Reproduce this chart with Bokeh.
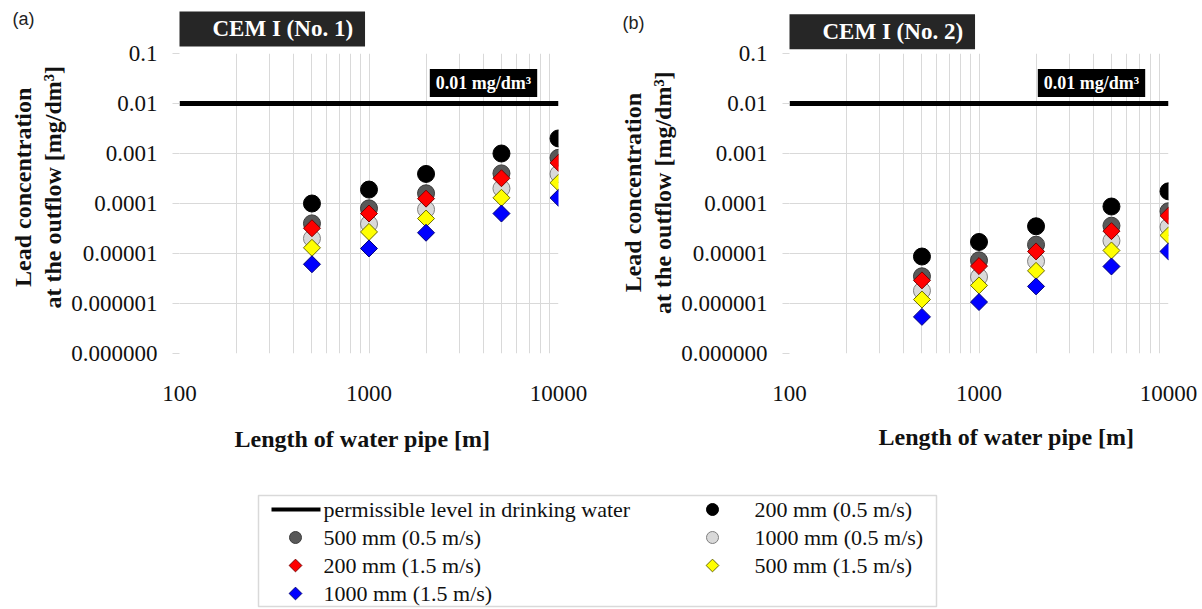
import math
from bokeh.plotting import figure
from bokeh.models import FixedTicker, CustomJSTickFormatter, Label, Range1d
from bokeh.layouts import row, column
from bokeh.embed import file_html
from bokeh.resources import INLINE
from bokeh.core.properties import value

# ---------------- data ----------------
length_m = [500, 1000, 2000, 5000, 10000]

series_labels = ["200 mm (0.5 m/s)", "500 mm (0.5 m/s)", "1000 mm (0.5 m/s)",
                 "200 mm (1.5 m/s)", "500 mm (1.5 m/s)", "1000 mm (1.5 m/s)"]

# panel (a) CEM I (No. 1)
a_200_05 = [1.0e-4, 1.9e-4, 3.9e-4, 1.0e-3, 2.0e-3]
a_500_05 = [4.0e-5, 8.0e-5, 1.6e-4, 4.0e-4, 8.2e-4]
a_1000_05 = [2.0e-5, 3.9e-5, 7.6e-5, 2.0e-4, 3.9e-4]
a_200_15 = [3.2e-5, 6.3e-5, 1.25e-4, 3.2e-4, 6.5e-4]
a_500_15 = [1.3e-5, 2.7e-5, 5.0e-5, 1.3e-4, 2.6e-4]
a_1000_15 = [6.1e-6, 1.26e-5, 2.6e-5, 6.3e-5, 1.3e-4]

# panel (b) CEM I (No. 2)
b_200_05 = [8.7e-6, 1.7e-5, 3.5e-5, 8.7e-5, 1.75e-4]
b_500_05 = [3.5e-6, 7.3e-6, 1.5e-5, 3.6e-5, 7.0e-5]
b_1000_05 = [1.8e-6, 3.4e-6, 7.0e-6, 1.8e-5, 3.4e-5]
b_200_15 = [2.9e-6, 5.6e-6, 1.1e-5, 2.8e-5, 5.7e-5]
b_500_15 = [1.2e-6, 2.3e-6, 4.5e-6, 1.15e-5, 2.3e-5]
b_1000_15 = [5.4e-7, 1.07e-6, 2.2e-6, 5.5e-6, 1.1e-5]

limit_label = "permissible level in drinking water"
limit_text = "0.01 mg/dm³"
limit_x = [100, 10000]
limit_y = [0.01, 0.01]

x_ticks = [100, 1000, 10000]
x_tick_labels = ["100", "1000", "10000"]
x_minor = [200, 300, 400, 500, 600, 700, 800, 900,
           2000, 3000, 4000, 5000, 6000, 7000, 8000, 9000]
y_ticks = [1e-7, 1e-6, 1e-5, 1e-4, 1e-3, 1e-2, 1e-1]
y_tick_labels = ["0.000000", "0.000001", "0.00001", "0.0001", "0.001", "0.01", "0.1"]

x_title = "Length of water pipe [m]"
y_title_lines = ["Lead concentration", "at the outflow [mg/dm³]"]

# ---------------- styles ----------------
SERIF = "Liberation Serif"
GRID = "#d9d9d9"
styles = [
    dict(marker="circle", size=17, fill_color="#000000", line_color="#000000", angle=0.0),
    dict(marker="circle", size=17, fill_color="#595959", line_color="#3c3c3c", angle=0.0),
    dict(marker="circle", size=17, fill_color="#d9d9d9", line_color="#7f7f7f", angle=0.0),
    dict(marker="square", size=12, fill_color="#ff0000", line_color="#7a0000", angle=math.pi / 4),
    dict(marker="square", size=12, fill_color="#ffff00", line_color="#6b6b00", angle=math.pi / 4),
    dict(marker="square", size=12, fill_color="#0000ff", line_color="#00007a", angle=math.pi / 4),
]

fmt_code = """
for (let i = 0; i < tv.length; i++) {
  if (Math.abs(Math.log10(tv[i]) - Math.log10(tick)) < 1e-6) { return tl[i]; }
}
return "";
"""

FRAME_W = 379


def make_panel(tag, name, series, width, height, bl, br, bt, frame_h, g):
    """g: pixel offsets of the annotation texts relative to the frame."""
    bb = height - bt - frame_h
    p = figure(width=width, height=height, x_axis_type="log", y_axis_type="log",
               x_range=(x_ticks[0], x_ticks[-1]), y_range=(y_ticks[0], y_ticks[-1]),
               toolbar_location=None, output_backend="svg",
               min_border_left=bl, min_border_right=br, min_border_top=bt, min_border_bottom=bb)
    p.outline_line_color = None
    p.background_fill_color = "white"
    p.border_fill_color = "white"

    xdec = FRAME_W / 2.0
    ydec = frame_h / 6.0

    def fx(px):          # px to the right of frame left
        return 10 ** (math.log10(x_ticks[0]) + px / xdec)

    def fy(px):          # px above frame top (negative = below)
        return 10 ** (math.log10(y_ticks[-1]) + px / ydec)

    def fy_bottom(px):   # px below frame bottom
        return 10 ** (math.log10(y_ticks[0]) - px / ydec)

    p.xaxis.ticker = FixedTicker(ticks=x_ticks, minor_ticks=x_minor)
    p.yaxis.ticker = FixedTicker(ticks=y_ticks, minor_ticks=[])
    p.xaxis.formatter = CustomJSTickFormatter(args=dict(tv=x_ticks, tl=x_tick_labels), code=fmt_code)
    p.yaxis.formatter = CustomJSTickFormatter(args=dict(tv=y_ticks, tl=y_tick_labels), code=fmt_code)

    p.xgrid.grid_line_color = GRID
    p.xgrid.minor_grid_line_color = GRID
    p.ygrid.grid_line_color = GRID

    for ax in (p.xaxis, p.yaxis):
        ax.axis_line_color = None
        ax.minor_tick_line_color = None
        ax.major_label_text_font = SERIF
        ax.major_label_text_font_size = "23px"
        ax.major_label_text_color = "#111111"
    p.xaxis.major_tick_line_color = None
    p.xaxis.major_tick_out = 0
    p.xaxis.major_label_standoff = 28
    p.yaxis.major_tick_line_color = GRID
    p.yaxis.major_tick_in = 0
    p.yaxis.major_tick_out = 7
    p.yaxis.major_label_standoff = 15

    # permissible level
    p.line(x=limit_x, y=limit_y, line_color="black", line_width=5)

    for ys, st in zip(series, styles):
        p.scatter(x=length_m, y=ys, marker=st["marker"], size=st["size"],
                  fill_color=st["fill_color"], line_color=st["line_color"],
                  line_width=1, angle=st["angle"])

    # label of the permissible level (inside the frame)
    p.add_layout(Label(x=fx(g["lim_x"]), y=fy(-g["lim_y"]), text=limit_text,
                       text_align="center", text_baseline="middle", text_color="white",
                       text_font=SERIF, text_font_style="bold", text_font_size="18px",
                       background_fill_color="black", padding=(6, 6, 4, 4)))
    # texts outside the frame: put in side panels so they are not clipped
    p.add_layout(Label(x=x_ticks[0], y=fy(g["title_y"]), text=name, text_align="left",
                       text_baseline="middle", text_color="white", text_font=SERIF,
                       text_font_style="bold", text_font_size="23px",
                       background_fill_color="#262626", padding=(33, 12, 5, 5)), "above")
    p.add_layout(Label(x=fx(g["tag_x"]), y=fy(g["tag_y"]), text=tag, text_align="left",
                       text_baseline="middle", text_color="#222222",
                       text_font="Liberation Sans", text_font_size="18px"), "right")
    p.add_layout(Label(x=fx(g["xt_x"]), y=fy_bottom(g["xt_y"]), text=x_title,
                       text_align="center", text_baseline="middle", text_color="#111111",
                       text_font=SERIF, text_font_style="bold", text_font_size="24px"), "below")
    for line_txt, lx in zip(y_title_lines, g["yt_x"]):
        p.add_layout(Label(x=fx(lx), y=fy(-g["yt_y"]), text=line_txt, angle=math.pi / 2,
                           text_align="center", text_baseline="middle", text_color="#111111",
                           text_font=SERIF, text_font_style="bold", text_font_size="24px"),
                     "left")
    return p


pa = make_panel("(a)", "CEM I (No. 1)",
                [a_200_05, a_500_05, a_1000_05, a_200_15, a_500_15, a_1000_15],
                600, 488, 179, 42, 53, 305,
                dict(lim_x=304, lim_y=30, title_y=25, tag_x=-167, tag_y=35, xt_x=183, xt_y=87,
                     yt_x=[-157, -127], yt_y=136))
pb = make_panel("(b)", "CEM I (No. 2)",
                [b_200_05, b_500_05, b_1000_05, b_200_15, b_500_15, b_1000_15],
                602, 488, 189, 34, 49, 304,
                dict(lim_x=302, lim_y=30, title_y=22, tag_x=-167, tag_y=31, xt_x=217, xt_y=85,
                     yt_x=[-157, -127], yt_y=141))

# ---------------- legend (own pixel frame, y downwards) ----------------
LW, LH = 1202, 121
pl = figure(width=LW, height=LH, x_range=Range1d(0, LW), y_range=Range1d(LH, 0),
            toolbar_location=None, output_backend="svg",
            x_axis_location=None, y_axis_location=None, min_border=0)
pl.grid.visible = False
pl.outline_line_color = None
pl.background_fill_color = "white"
pl.border_fill_color = "white"

box = dict(left=258, right=936, top=7, bottom=118)
pl.quad(left=box["left"], right=box["right"], top=box["top"], bottom=box["bottom"],
        fill_color=None, line_color=GRID, line_width=1.5)

col_glyph_x = [295, 712]
col_text_x = [323, 754]
row_y0, row_pitch = 21, 28
legend_entries = [limit_label] + series_labels      # filled row by row, 2 columns
legend_style = [None] + styles
for i, (lab, st) in enumerate(zip(legend_entries, legend_style)):
    c, r = i % 2, i // 2
    gy = row_y0 + r * row_pitch
    if st is None:
        pl.line(x=[col_glyph_x[c] - 24, col_glyph_x[c] + 25], y=[gy, gy],
                line_color="black", line_width=4)
    else:
        sz = 12 if st["marker"] == "circle" else 9
        pl.scatter(x=[col_glyph_x[c]], y=[gy], marker=st["marker"], size=sz,
                   fill_color=st["fill_color"], line_color=st["line_color"],
                   line_width=1, angle=st["angle"])
    pl.text(x=[col_text_x[c]], y=[gy], text=[lab], text_font=value(SERIF),
            text_font_size=value("22px"), text_baseline="middle", text_align="left",
            text_color="#111111")

layout = column(row(pa, pb), pl)
open("out.html", "w").write(file_html(layout, INLINE))
